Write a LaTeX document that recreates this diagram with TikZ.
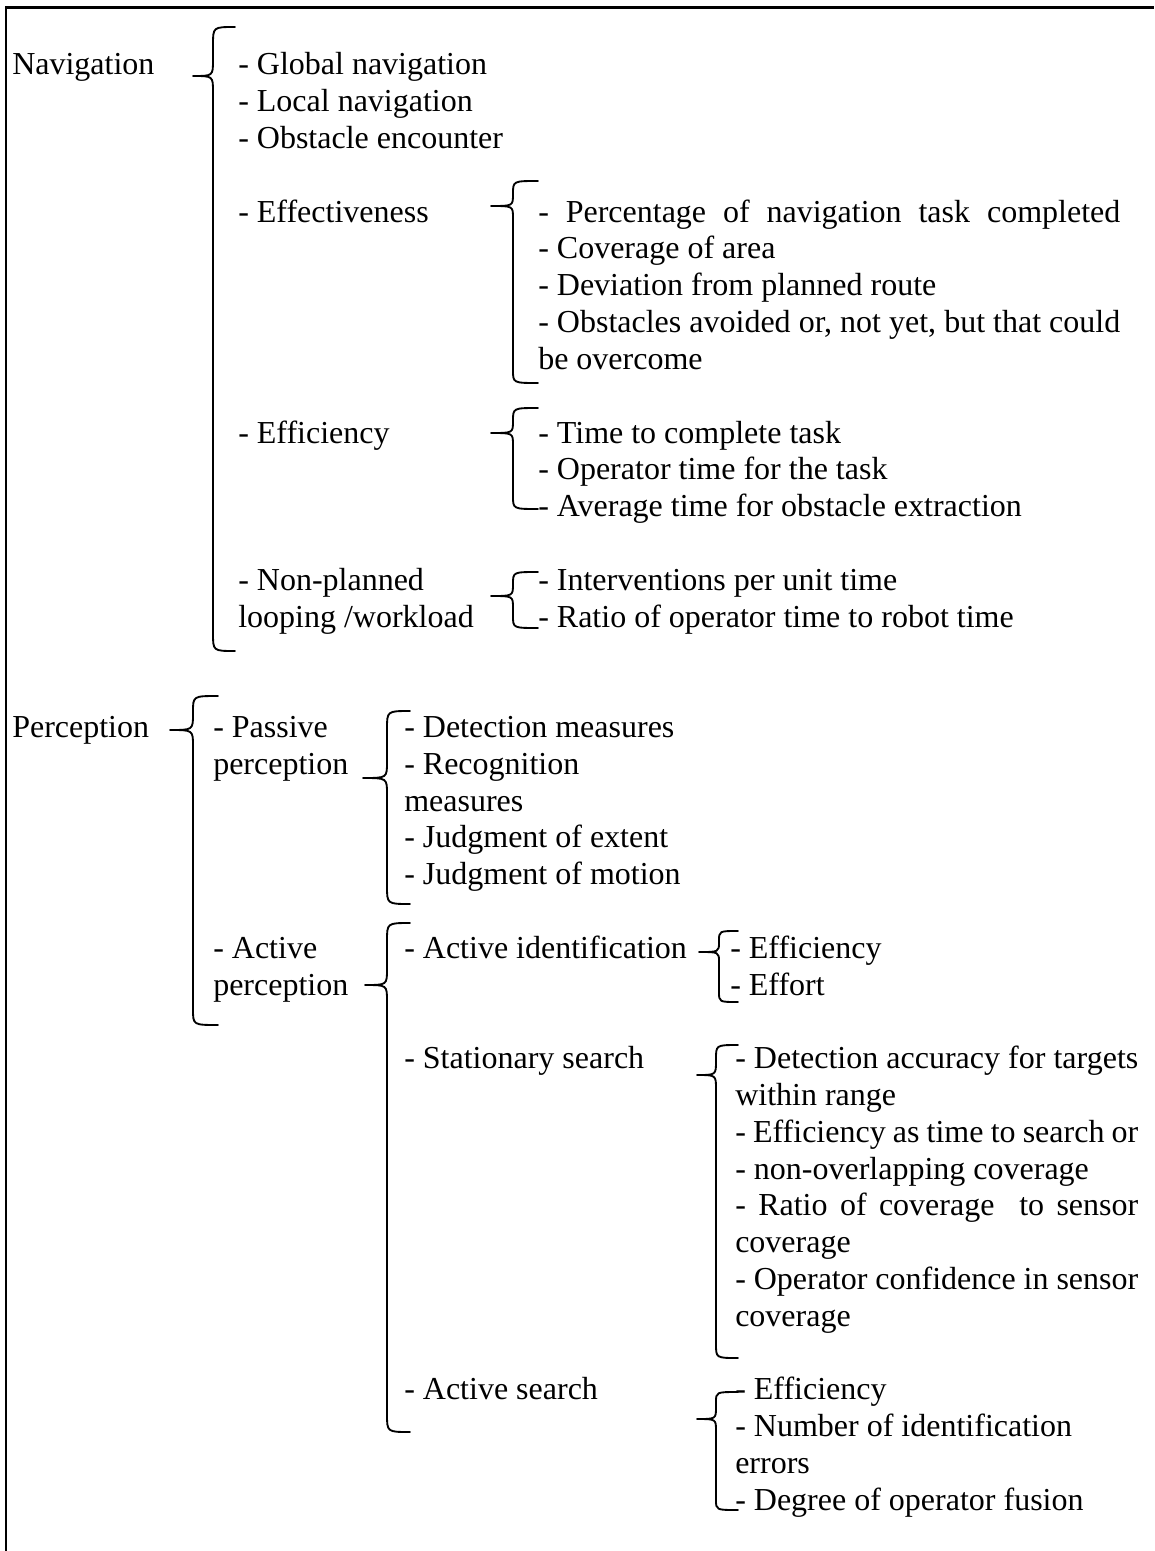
\documentclass[tikz,border=0pt]{standalone}
\usepackage{fontspec}
\setmainfont{Liberation Serif}
% baseline of text row #1 (rows are 36.8 units apart)
\newcommand\row[1]{75+36.8*#1}
% a curly brace: xr (curl ends), xv (stem), xt (tip), ytop, ytip, ybot, end radius, tip radius
\newcommand\wordbrace[8]{%
  \draw[bracepen] (#1,#4) .. controls (#2,#4) .. (#2,#4+#7) -- (#2,#5-#8)
    .. controls (#2,#5) .. (#3,#5) .. controls (#2,#5) .. (#2,#5+#8)
    -- (#2,#6-#7) .. controls (#2,#6) .. (#1,#6);}
% justified line of a given width (in px units of the picture)
\newcommand\just[2]{\makebox[#1\dimexpr0.75pt\relax][s]{#2}}
\begin{document}
\begin{tikzpicture}[x=0.75pt,y=-0.75pt,
  txt/.style={anchor=base west,inner sep=0pt,font=\fontsize{24}{27.6}\selectfont},
  bracepen/.style={line width=1.4pt,line join=round,line cap=round},
  framepen/.style={line width=1.6pt}]
\useasboundingbox (0,0) rectangle (1154,1551);
% frame (left and top edges)
\draw[framepen] (6,1551) -- (6,7.5) -- (1154,7.5);

% ---------------- Navigation ----------------
\node[txt] (nav) at (12,\row{0}) {Navigation};
\wordbrace{235}{213}{193}{27}{76}{651}{18}{16}
\node[txt] (glob) at (238,\row{0}) {- Global navigation};
\node[txt] (loc)  at (238,\row{1}) {- Local navigation};
\node[txt] (obs)  at (238,\row{2}) {- Obstacle encounter};

\node[txt] (effv) at (238,\row{4}) {- Effectiveness};
\wordbrace{538}{513}{491}{181}{206}{383}{13}{12}
\node[txt] (effv1) at (538,\row{4}) {\just{582}{- Percentage of navigation task completed}};
\node[txt] (effv2) at (538,\row{5}) {- Coverage of area};
\node[txt] (effv3) at (538,\row{6}) {- Deviation from planned route};
\node[txt] (effv4) at (538,\row{7}) {\just{582}{- Obstacles avoided or, not yet, but that could}};
\node[txt] (effv5) at (538,\row{8}) {be overcome};

\node[txt] (effc) at (238,\row{10}) {- Efficiency};
\wordbrace{538}{513}{491}{408}{433}{509}{13}{12}
\node[txt] (effc1) at (538,\row{10}) {- Time to complete task};
\node[txt] (effc2) at (538,\row{11}) {- Operator time for the task};
\node[txt] (effc3) at (538,\row{12}) {- Average time for obstacle extraction};

\node[txt] (nonp)  at (238,\row{14}) {- Non-planned};
\node[txt] (nonp') at (238,\row{15}) {looping /workload};
\wordbrace{538}{513}{491}{572}{596}{628}{12}{12}
\node[txt] (nonp1) at (538,\row{14}) {- Interventions per unit time};
\node[txt] (nonp2) at (538,\row{15}) {- Ratio of operator time to robot time};

% ---------------- Perception ----------------
\node[txt] (perc) at (12,\row{18}) {Perception};
\wordbrace{218}{193}{170}{696}{730}{1025}{16}{16}

\node[txt] (pass)  at (213,\row{18}) {- Passive};
\node[txt] (pass') at (213,\row{19}) {perception};
\wordbrace{410}{387}{363}{711}{778}{904}{18}{16}
\node[txt] (pass1) at (404,\row{18}) {- Detection measures};
\node[txt] (pass2) at (404,\row{19}) {- Recognition};
\node[txt] (pass3) at (404,\row{20}) {measures};
\node[txt] (pass4) at (404,\row{21}) {- Judgment of extent};
\node[txt] (pass5) at (404,\row{22}) {- Judgment of motion};

\node[txt] (act)  at (213,\row{24}) {- Active};
\node[txt] (act') at (213,\row{25}) {perception};
\wordbrace{410}{387}{365}{923}{985}{1432}{18}{16}

\node[txt] (aid) at (404,\row{24}) {- Active identification};
\wordbrace{738}{719}{699}{931}{952}{1002}{10}{10}
\node[txt] (aid1) at (730,\row{24}) {- Efficiency};
\node[txt] (aid2) at (730,\row{25}) {- Effort};

\node[txt] (sts) at (404,\row{27}) {- Stationary search};
\wordbrace{738}{716}{697}{1045}{1075}{1358}{14}{14}
\node[txt] (sts1) at (735,\row{27}) {\just{403}{- Detection accuracy for targets}};
\node[txt] (sts2) at (735,\row{28}) {within range};
\node[txt] (sts3) at (735,\row{29}) {\just{403}{- Efficiency as time to search or}};
\node[txt] (sts4) at (735,\row{30}) {- non-overlapping coverage};
\node[txt] (sts5) at (735,\row{31}) {\just{403}{- Ratio of coverage\ \ to sensor}};
\node[txt] (sts6) at (735,\row{32}) {coverage};
\node[txt] (sts7) at (735,\row{33}) {\just{403}{- Operator confidence in sensor}};
\node[txt] (sts8) at (735,\row{34}) {coverage};

\node[txt] (acs) at (404,\row{36}) {- Active search};
\wordbrace{738}{716}{697}{1392}{1419}{1510}{10}{12}
\node[txt] (acs1) at (735,\row{36}) {- Efficiency};
\node[txt] (acs2) at (735,\row{37}) {- Number of identification};
\node[txt] (acs3) at (735,\row{38}) {errors};
\node[txt] (acs4) at (735,\row{39}) {- Degree of operator fusion};
\end{tikzpicture}
\end{document}
